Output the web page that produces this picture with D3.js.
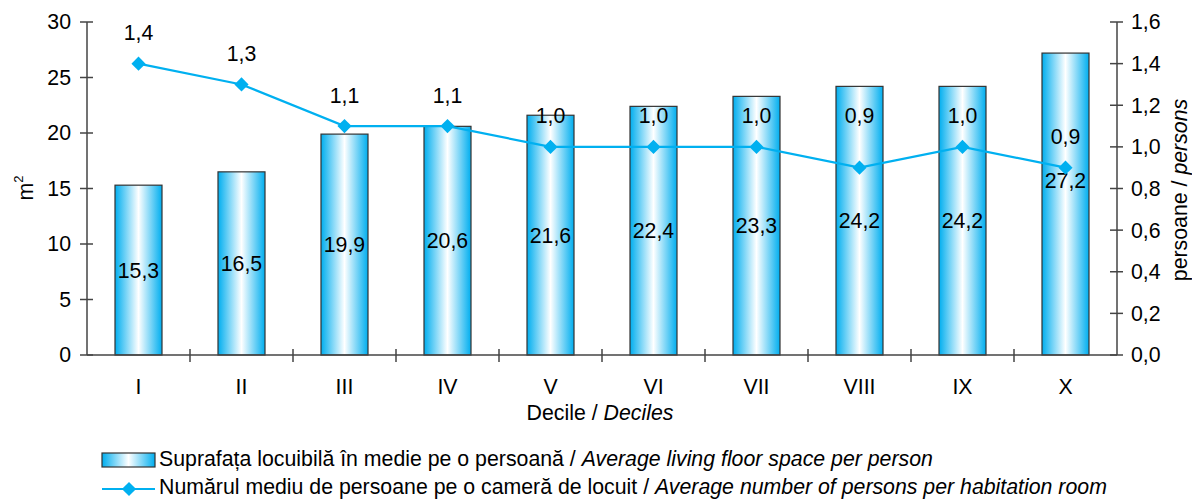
<!DOCTYPE html>
<html><head><meta charset="utf-8">
<script src="https://cdn.jsdelivr.net/npm/d3@7"></script>
<style>body{margin:0;background:#fff}svg{display:block;font-family:"Liberation Sans",Arial,sans-serif}</style>
</head><body><svg id="c" width="1192" height="500"></svg>
<script>
const categories = ["I","II","III","IV","V","VI","VII","VIII","IX","X"];
const floorSpace = [15.3,16.5,19.9,20.6,21.6,22.4,23.3,24.2,24.2,27.2];
const personsPerRoom = [1.4,1.3,1.1,1.1,1.0,1.0,1.0,0.9,1.0,0.9];
const leftTicks = [0,5,10,15,20,25,30];
const rightTicks = [0,0.2,0.4,0.6,0.8,1.0,1.2,1.4,1.6];

const svg = d3.select("#c");
const m = {l:87, r:1117, t:22, b:355};
const fmt1 = d => d.toFixed(1).replace(".", ",");
const x = d3.scaleBand().domain(categories).range([m.l, m.r]).paddingInner(0).paddingOuter(0);
const yL = d3.scaleLinear().domain([0,30]).range([m.b, m.t]);
const yR = d3.scaleLinear().domain([0,1.6]).range([m.b, m.t]);
const blue = "#00B0F0", axisCol = "#444";

const defs = svg.append("defs");
const g = defs.append("linearGradient").attr("id","bg").attr("x1","0").attr("x2","1").attr("y1","0").attr("y2","0");
g.append("stop").attr("offset","0").attr("stop-color","#00aeef");
g.append("stop").attr("offset","0.5").attr("stop-color","#ffffff");
g.append("stop").attr("offset","1").attr("stop-color","#00aeef");

const bw = 47;
svg.append("g").selectAll("rect").data(floorSpace).join("rect")
  .attr("x",(d,i)=>x(categories[i])+x.bandwidth()/2-bw/2)
  .attr("y",d=>yL(d)).attr("width",bw).attr("height",d=>yL(0)-yL(d))
  .attr("fill","url(#bg)").attr("stroke","#333").attr("stroke-width",1.2);

const ax = svg.append("g").attr("stroke",axisCol).attr("stroke-width",1.5).attr("fill","none");
ax.append("line").attr("x1",m.l).attr("x2",m.l).attr("y1",m.t).attr("y2",m.b);
ax.append("line").attr("x1",m.r).attr("x2",m.r).attr("y1",m.t).attr("y2",m.b);
ax.append("line").attr("x1",m.l).attr("x2",m.r).attr("y1",m.b).attr("y2",m.b);
leftTicks.forEach(t=>ax.append("line").attr("x1",m.l-7).attr("x2",m.l+6).attr("y1",yL(t)).attr("y2",yL(t)));
rightTicks.forEach(t=>ax.append("line").attr("x1",m.r-7).attr("x2",m.r+6).attr("y1",yR(t)).attr("y2",yR(t)));
categories.forEach((c,i)=>{ if(i>0) ax.append("line").attr("x1",x(c)).attr("x2",x(c)).attr("y1",m.b-6).attr("y2",m.b+7); });

const fs = 21.3;
svg.append("g").selectAll("text").data(leftTicks).join("text")
  .attr("x",m.l-16).attr("y",d=>yL(d)).attr("dy","0.35em").attr("text-anchor","end")
  .attr("font-size",fs).text(d=>d);
svg.append("g").selectAll("text").data(rightTicks).join("text")
  .attr("x",m.r+14).attr("y",d=>yR(d)).attr("dy","0.35em").attr("text-anchor","start")
  .attr("font-size",fs).text(d=>fmt1(d));
svg.append("g").selectAll("text").data(categories).join("text")
  .attr("x",d=>x(d)+x.bandwidth()/2).attr("y",387).attr("dy","0.35em").attr("text-anchor","middle")
  .attr("font-size",fs).text(d=>d);

const xt = svg.append("text").attr("x",600).attr("y",413).attr("dy","0.35em").attr("text-anchor","middle").attr("font-size",fs);
xt.append("tspan").text("Decile / ");
xt.append("tspan").attr("font-style","italic").text("Deciles");
const ytl = svg.append("text").attr("transform","translate(33,188) rotate(-90)").attr("text-anchor","middle").attr("font-size",fs);
ytl.append("tspan").text("m");
ytl.append("tspan").attr("font-size",13).attr("dy",-10).text("2");
const ytr = svg.append("text").attr("transform","translate(1180,190) rotate(-90)").attr("text-anchor","middle").attr("dy","0.35em").attr("font-size",fs);
ytr.append("tspan").text("persoane / ");
ytr.append("tspan").attr("font-style","italic").text("persons");

svg.append("g").selectAll("text").data(floorSpace).join("text")
  .attr("x",(d,i)=>x(categories[i])+x.bandwidth()/2)
  .attr("y",(d,i)=>(yL(d)+yL(0))/2 - (i===9?23:0)).attr("dy","0.35em").attr("text-anchor","middle")
  .attr("font-size",fs).text(d=>fmt1(d));

const line = d3.line().x((d,i)=>x(categories[i])+x.bandwidth()/2).y(d=>yR(d));
svg.append("path").datum(personsPerRoom).attr("d",line).attr("fill","none").attr("stroke",blue).attr("stroke-width",2.2);
const diamond = d3.symbol().type(d3.symbolSquare).size(100);
svg.append("g").selectAll("path").data(personsPerRoom).join("path")
  .attr("d",diamond)
  .attr("transform",(d,i)=>`translate(${x(categories[i])+x.bandwidth()/2},${yR(d)}) rotate(45)`)
  .attr("fill",blue);
svg.append("g").selectAll("text").data(personsPerRoom).join("text")
  .attr("x",(d,i)=>x(categories[i])+x.bandwidth()/2)
  .attr("y",(d,i)=>yR(d)-31-(i===7?21:0)).attr("dy","0.35em").attr("text-anchor","middle")
  .attr("font-size",fs).text(d=>fmt1(d));

const lg = svg.append("g");
lg.append("rect").attr("x",102).attr("y",453).attr("width",53).attr("height",14).attr("fill","url(#bg)").attr("stroke","#333").attr("stroke-width",1.2);
const l1 = lg.append("text").attr("x",159).attr("y",459).attr("dy","0.35em").attr("font-size",fs);
l1.append("tspan").text("Suprafața locuibilă în medie pe o persoană / ");
l1.append("tspan").attr("font-style","italic").text("Average living floor space per person");
lg.append("line").attr("x1",102).attr("x2",155).attr("y1",489).attr("y2",489).attr("stroke",blue).attr("stroke-width",2.2);
lg.append("path").attr("d",diamond).attr("transform","translate(129,489) rotate(45)").attr("fill",blue);
const l2 = lg.append("text").attr("x",159).attr("y",487).attr("dy","0.35em").attr("font-size",fs);
l2.append("tspan").text("Numărul mediu de persoane pe o cameră de locuit / ");
l2.append("tspan").attr("font-style","italic").text("Average number of persons per habitation room");
</script></body></html>
